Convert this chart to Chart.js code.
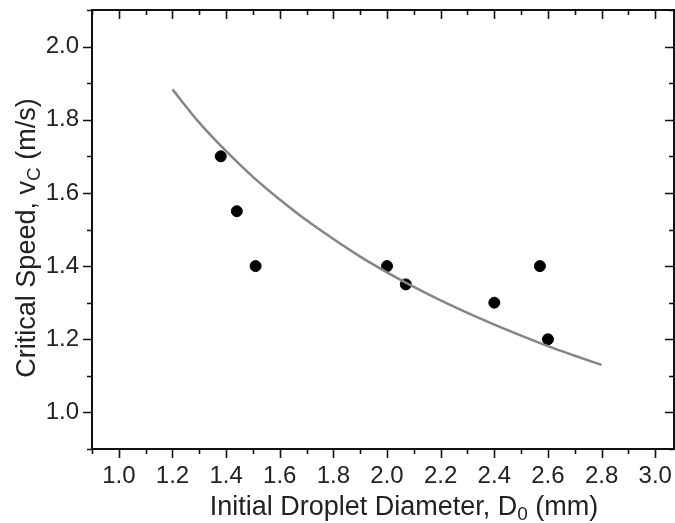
<!DOCTYPE html>
<html>
<head>
<meta charset="utf-8">
<script src="https://cdn.jsdelivr.net/npm/chart.js@4.4.1/dist/chart.umd.min.js"></script>
<style>
  html, body { margin: 0; padding: 0; background: #fff; }
  #wrap { width: 675px; height: 523px; }
</style>
</head>
<body>
<div id="wrap"><canvas id="speed" width="675" height="523"></canvas></div>
<script>
// measured droplets
const diameters = [1.38, 1.44, 1.51, 2.00, 2.07, 2.40, 2.57, 2.60];
const speeds    = [1.70, 1.55, 1.40, 1.40, 1.35, 1.30, 1.40, 1.20];

// fitted curve
const fitD = [1.2, 1.3, 1.4, 1.5, 1.6, 1.7, 1.8, 1.9, 2.0, 2.1, 2.2, 2.3, 2.4, 2.5, 2.6, 2.7, 2.8];
const fitV = [1.883, 1.792, 1.714, 1.644, 1.582, 1.525, 1.474, 1.426, 1.383, 1.343, 1.306, 1.272, 1.240, 1.210, 1.181, 1.155, 1.130];

const textColor = '#222';
const fontFamily = '"Liberation Sans", Arial, sans-serif';

function isStep(v) {
    return Math.abs(v * 10 - Math.round(v * 10)) < 1e-6;
}
function isMajor(v) {
    return isStep(v) && Math.round(v * 10) % 2 === 0;
}

// draw text pieces with subscripts, centered on 0
function drawRich(ctx, parts, size) {
    let total = 0;
    const widths = parts.map(p => {
        ctx.font = (p.sub ? Math.round(size * 0.72) : size) + 'px ' + fontFamily;
        const w = ctx.measureText(p.t).width;
        total += w;
        return w;
    });
    let x = -total / 2;
    parts.forEach((p, i) => {
        ctx.font = (p.sub ? Math.round(size * 0.72) : size) + 'px ' + fontFamily;
        ctx.fillText(p.t, x, p.sub ? size * 0.17 : 0);
        x += widths[i];
    });
}

const framePlugin = {
    id: 'frame',
    afterDraw(chart) {
        const ctx = chart.ctx;
        const a = chart.chartArea;
        const xs = chart.scales.x, ys = chart.scales.y;
        ctx.save();
        ctx.strokeStyle = '#111';
        ctx.lineWidth = 2;
        ctx.strokeRect(a.left, a.top, a.right - a.left, a.bottom - a.top);
        ctx.lineWidth = 1.6;
        ctx.beginPath();
        xs.ticks.forEach(t => {
            if (!isStep(t.value)) return;
            const px = Math.round(xs.getPixelForValue(t.value)) + 0.5;
            const len = isMajor(t.value) ? 9 : 5;
            ctx.moveTo(px, a.bottom); ctx.lineTo(px, a.bottom + len);
            ctx.moveTo(px, a.top); ctx.lineTo(px, a.top + len);
        });
        ys.ticks.forEach(t => {
            if (!isStep(t.value)) return;
            const py = Math.round(ys.getPixelForValue(t.value)) + 0.5;
            const len = isMajor(t.value) ? 9 : 5;
            ctx.moveTo(a.left - len, py); ctx.lineTo(a.left, py);
            ctx.moveTo(a.right - len, py); ctx.lineTo(a.right, py);
        });
        ctx.stroke();

        ctx.fillStyle = textColor;
        ctx.textBaseline = 'alphabetic';
        ctx.textAlign = 'left';
        // x title
        ctx.save();
        ctx.translate(404, 515);
        drawRich(ctx, [{t: 'Initial Droplet Diameter, D'}, {t: '0', sub: true}, {t: ' (mm)'}], 27);
        ctx.restore();
        // y title
        ctx.save();
        ctx.translate(35, 238);
        ctx.rotate(-Math.PI / 2);
        drawRich(ctx, [{t: 'Critical Speed, v'}, {t: 'C', sub: true}, {t: ' (m/s)'}], 27);
        ctx.restore();
        ctx.restore();
    }
};

new Chart(document.getElementById('speed'), {
    type: 'scatter',
    data: {
        datasets: [
            {
                label: 'Fit',
                type: 'line',
                data: fitD.map((d, i) => ({x: d, y: fitV[i]})),
                borderColor: '#858585',
                borderWidth: 2.5,
                pointRadius: 0,
                fill: false,
                cubicInterpolationMode: 'monotone'
            },
            {
                label: 'Data',
                data: diameters.map((d, i) => ({x: d, y: speeds[i]})),
                backgroundColor: '#000',
                borderColor: '#000',
                pointRadius: 5.5,
                pointHoverRadius: 5.5
            }
        ]
    },
    options: {
        responsive: false,
        animation: false,
        layout: {
            autoPadding: false,
            padding: { top: 10, right: 1, left: 0, bottom: 0 }
        },
        plugins: {
            legend: { display: false },
            tooltip: { enabled: false }
        },
        scales: {
            x: {
                type: 'linear',
                min: 0.9,
                max: 3.07,
                border: { display: false },
                grid: { display: false, drawTicks: true, tickLength: 9 },
                ticks: {
                    stepSize: 0.1,
                    includeBounds: false,
                    autoSkip: false,
                    maxRotation: 0,
                    padding: 4,
                    color: textColor,
                    font: { family: fontFamily, size: 24 },
                    callback: v => isMajor(v) ? v.toFixed(1) : ''
                },
                afterFit: s => {
                    s.height = 74;
                    s.paddingLeft = 0;
                    s.paddingRight = 0;
                }
            },
            y: {
                type: 'linear',
                min: 0.9,
                max: 2.1,
                border: { display: false },
                grid: { display: false, drawTicks: true, tickLength: 9 },
                ticks: {
                    stepSize: 0.1,
                    autoSkip: false,
                    padding: 4,
                    color: textColor,
                    font: { family: fontFamily, size: 24 },
                    callback: v => isMajor(v) ? v.toFixed(1) : ''
                },
                afterFit: s => {
                    s.width = 92;
                    s.paddingTop = 0;
                    s.paddingBottom = 0;
                }
            }
        }
    },
    plugins: [framePlugin]
});
</script>
</body>
</html>
